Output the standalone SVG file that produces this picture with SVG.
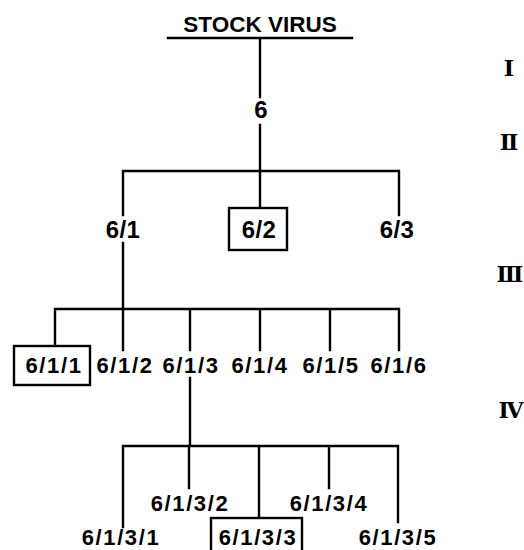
<svg xmlns="http://www.w3.org/2000/svg" width="524" height="550" viewBox="0 0 524 550">
<style>
.ln{stroke:#000;stroke-width:2.4;fill:none;stroke-linecap:square}
.bx{stroke:#000;stroke-width:2.4;fill:#fff}
.t2{font-family:"Liberation Sans",Arial,sans-serif;font-size:24px;font-weight:bold;letter-spacing:0.4px;text-anchor:middle;fill:#000}
.t{font-family:"Liberation Sans",Arial,sans-serif;font-size:22px;font-weight:bold;letter-spacing:1.6px;text-anchor:middle;fill:#000}
.h{font-family:"Liberation Sans",Arial,sans-serif;font-size:22.5px;font-weight:bold;text-anchor:middle;fill:#000}
.r{font-family:"DejaVu Serif","Liberation Serif",serif;font-size:22px;font-weight:bold;text-anchor:middle;fill:#000}
</style>
<rect width="524" height="550" fill="#fff"/>
<g id="connectors">
<path class="ln" d="M168 38H352M260 38V97M260 125V171M123 171H399M123 171V215M260 171V208M399 171V215"/>
<path class="ln" d="M123 243V309M55 309H399M55 309V346M123 309V350M190 309V350M260 309V350M330 309V350M399 309V350"/>
<path class="ln" d="M190 378V446M123 446H398M123 446V527M189 446V488M259 446V518M329 446V488M398 446V522"/>
</g>
<g id="stock"><text class="h" x="260" y="32">STOCK VIRUS</text></g>
<g id="n6"><text class="t2" x="261" y="118">6</text></g>
<g id="n6-1"><text class="t2" x="123" y="238">6/1</text></g>
<g id="n6-2"><rect class="bx" x="229" y="208" width="58" height="42"/><text class="t2" x="259" y="238">6/2</text></g>
<g id="n6-3"><text class="t2" x="397" y="238">6/3</text></g>
<g id="n6-1-1"><rect class="bx" x="14" y="346" width="76" height="39"/><text class="t" x="54" y="373">6/1/1</text></g>
<g id="n6-1-2"><text class="t" x="125" y="373">6/1/2</text></g>
<g id="n6-1-3"><text class="t" x="191" y="373">6/1/3</text></g>
<g id="n6-1-4"><text class="t" x="260" y="373">6/1/4</text></g>
<g id="n6-1-5"><text class="t" x="331" y="373">6/1/5</text></g>
<g id="n6-1-6"><text class="t" x="399" y="373">6/1/6</text></g>
<g id="n6-1-3-1"><text class="t" x="121" y="545">6/1/3/1</text></g>
<g id="n6-1-3-2"><text class="t" x="190" y="511">6/1/3/2</text></g>
<g id="n6-1-3-3"><rect class="bx" x="211" y="518" width="91" height="40"/><text class="t" x="258" y="545">6/1/3/3</text></g>
<g id="n6-1-3-4"><text class="t" x="329" y="511">6/1/3/4</text></g>
<g id="n6-1-3-5"><text class="t" x="398" y="545">6/1/3/5</text></g>
<g id="levels">
<text class="r" x="509" y="76">Ⅰ</text>
<text class="r" x="509" y="150">Ⅱ</text>
<text class="r" x="510" y="282">Ⅲ</text>
<text class="r" x="511" y="418">Ⅳ</text>
</g>
</svg>
